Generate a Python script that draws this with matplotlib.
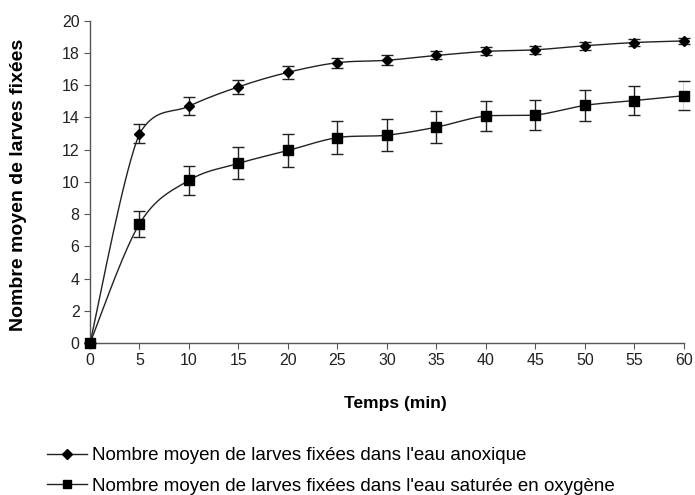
import numpy as np
import matplotlib
matplotlib.use("Agg")
import matplotlib.pyplot as plt
from matplotlib.lines import Line2D

plt.rcParams['font.family'] = ['Liberation Sans', 'DejaVu Sans']

temps = [0, 5, 10, 15, 20, 25, 30, 35, 40, 45, 50, 55, 60]
anoxique = [0, 13.0, 14.7, 15.9, 16.8, 17.4, 17.55, 17.85, 18.1, 18.2, 18.45, 18.65, 18.75]
anoxique_err = [0, 0.6, 0.55, 0.45, 0.4, 0.3, 0.3, 0.25, 0.25, 0.25, 0.25, 0.2, 0.2]
oxygene = [0, 7.4, 10.1, 11.15, 11.95, 12.75, 12.9, 13.4, 14.1, 14.15, 14.75, 15.05, 15.35]
oxygene_err = [0, 0.8, 0.9, 1.0, 1.05, 1.0, 1.0, 1.0, 0.95, 0.95, 0.95, 0.9, 0.9]

label_anox = "Nombre moyen de larves fixées dans l'eau anoxique"
label_oxy = "Nombre moyen de larves fixées dans l'eau saturée en oxygène"


def smooth(x, y, n=20):
    # Bezier curve through the points (Excel-like smoothed line), no overshoot
    x = np.asarray(x, float)
    y = np.asarray(y, float)
    px = np.concatenate([[x[0]], x, [x[-1]]])
    py = np.concatenate([[y[0]], y, [y[-1]]])
    xs, ys = [], []
    t = np.linspace(0, 1, n)
    for i in range(1, len(px) - 2):
        p0, p1, p2, p3 = [np.array([px[j], py[j]]) for j in range(i - 1, i + 3)]
        c1 = p1 + (p2 - p0) / 6.0
        c2 = p2 - (p3 - p1) / 6.0
        lo, hi = min(p1[1], p2[1]), max(p1[1], p2[1])
        c1[1] = np.clip(c1[1], lo, hi)
        c2[1] = np.clip(c2[1], lo, hi)
        pts = ((1 - t) ** 3)[:, None] * p1 + (3 * (1 - t) ** 2 * t)[:, None] * c1 \
            + (3 * (1 - t) * t ** 2)[:, None] * c2 + (t ** 3)[:, None] * p2
        xs.extend(pts[:, 0])
        ys.extend(pts[:, 1])
    return xs, ys


fig = plt.figure(figsize=(6.95, 4.95), dpi=100)
ax = fig.add_axes([0.1295, 0.307, 0.8545, 0.651])

for vals, errs, mk, ms in [(anoxique, anoxique_err, 'D', 5), (oxygene, oxygene_err, 's', 6.5)]:
    sx, sy = smooth(temps, vals)
    ax.plot(sx, sy, color='#222222', lw=1.0, zorder=2)
    ax.errorbar(temps, vals, yerr=errs, fmt='none', ecolor='#222222', elinewidth=1.0,
                capsize=4, capthick=1.0, zorder=3)
    ax.plot(temps, vals, ls='none', marker=mk, ms=ms, color='black', zorder=4)

ax.set_xlim(0, 60)
ax.set_ylim(0, 20)
ax.set_xticks(temps)
ax.set_yticks(range(0, 21, 2))
ax.spines['top'].set_visible(False)
ax.spines['right'].set_visible(False)
for s in ('left', 'bottom'):
    ax.spines[s].set_color('#555555')
    ax.spines[s].set_linewidth(1.0)
ax.tick_params(direction='out', length=4, color='#555555', labelsize=11.5, labelcolor='#222222')
for ln in ax.lines:
    ln.set_clip_on(False)

ax.set_xlabel('Temps (min)', fontsize=12.5, fontweight='bold')
ax.xaxis.set_label_coords(0.515, -0.165)
ax.set_ylabel('Nombre moyen de larves fixées', fontsize=14, fontweight='bold')
ax.yaxis.set_label_coords(-0.106, 0.49)

handles = [Line2D([], [], color='#222222', lw=1.0, marker='D', ms=5, mfc='black', mec='black'),
           Line2D([], [], color='#222222', lw=1.0, marker='s', ms=6, mfc='black', mec='black')]
fig.legend(handles, [label_anox, label_oxy], loc='upper left', bbox_to_anchor=(0.0676, 0.097),
           frameon=False, fontsize=13.5, handlelength=2.13, handletextpad=0.27,
           labelspacing=0.73, borderaxespad=0, borderpad=0)

fig.savefig('out.png', dpi=100)
